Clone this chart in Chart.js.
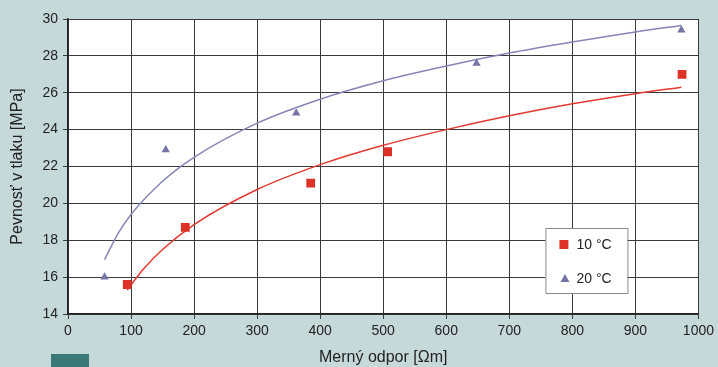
<!DOCTYPE html>
<html>
<head>
<meta charset="utf-8">
<script src="https://cdn.jsdelivr.net/npm/chart.js@4.4.1/dist/chart.umd.min.js"></script>
<style>
  html, body { margin: 0; padding: 0; background: #c6d9d9; }
  #wrap { position: relative; width: 718px; height: 367px; }
  #mark { position: absolute; left: 51px; top: 354px; width: 38px; height: 13px; background: #3a7978; }
</style>
</head>
<body>
<div id="wrap">
  <canvas id="chart" width="718" height="367"></canvas>
  <div id="mark"></div>
</div>
<script>
// measured points
var resist10 = [94, 186, 385, 507, 974];
var strength10 = [15.6, 18.7, 21.1, 22.8, 27.0];
var resist20 = [58, 155, 362, 648, 973];
var strength20 = [16.0, 22.9, 24.9, 27.6, 29.4];

// trend curves
var trendX10 = [94, 120, 150, 200, 300, 400, 500, 600, 700, 800, 900, 973];
var trendY10 = [15.3, 16.45, 17.5, 18.85, 20.75, 22.1, 23.15, 24.0, 24.75, 25.4, 25.95, 26.3];
var trendX20 = [58, 80, 100, 150, 200, 300, 400, 500, 600, 700, 800, 900, 973];
var trendY20 = [16.95, 18.4, 19.4, 21.2, 22.5, 24.35, 25.65, 26.65, 27.45, 28.15, 28.75, 29.3, 29.65];

var xTicks = [0, 100, 200, 300, 400, 500, 600, 700, 800, 900, 1000];
var yTicks = [14, 16, 18, 20, 22, 24, 26, 28, 30];

var red = "#dd3128";
var blue = "#7474a8";
var fontFamily = "'Liberation Sans', Arial, sans-serif";

function toPoints(xs, ys) {
  var pts = [];
  for (let i = 0; i < xs.length; i++) {
    pts.push({ x: xs[i], y: ys[i] });
  }
  return pts;
}

var plotBackground = {
  id: "plotBackground",
  beforeDraw: function(chart) {
    var a = chart.chartArea;
    var ctx = chart.ctx;
    ctx.save();
    ctx.fillStyle = "#ffffff";
    ctx.fillRect(a.left, a.top, a.right - a.left, a.bottom - a.top);
    ctx.restore();
  }
};

// legend box inside the plot, lower right
var boxLegend = {
  id: "boxLegend",
  afterDraw: function(chart) {
    var a = chart.chartArea;
    var ctx = chart.ctx;
    var w = 82, h = 65;
    var bx = a.right - 71 - w;
    var by = a.bottom - 21 - h;
    ctx.save();
    ctx.fillStyle = "#ffffff";
    ctx.fillRect(bx, by, w, h);
    ctx.strokeStyle = "#8a8a8a";
    ctx.lineWidth = 1;
    ctx.strokeRect(bx + 0.5, by + 0.5, w, h);

    ctx.font = "14px " + fontFamily;
    ctx.textBaseline = "middle";

    var d0 = chart.data.datasets[0];
    var d1 = chart.data.datasets[1];
    // square
    ctx.fillStyle = d0.backgroundColor;
    ctx.fillRect(bx + 14, by + 12, 9, 9);
    ctx.fillStyle = "#222";
    ctx.fillText(d0.label, bx + 31, by + 17);
    // triangle
    ctx.fillStyle = d1.backgroundColor;
    ctx.beginPath();
    ctx.moveTo(bx + 19.5, by + 46);
    ctx.lineTo(bx + 24, by + 54);
    ctx.lineTo(bx + 15, by + 54);
    ctx.closePath();
    ctx.fill();
    ctx.fillStyle = "#222";
    ctx.fillText(d1.label, bx + 31, by + 51);
    ctx.restore();
  }
};

var config = {
  type: "scatter",
  data: {
    datasets: [
      {
        label: "10 °C",
        data: toPoints(resist10, strength10),
        backgroundColor: red,
        borderColor: red,
        pointStyle: "rect",
        pointRadius: 6.2,
        pointBorderWidth: 0,
        order: 1
      },
      {
        label: "20 °C",
        data: toPoints(resist20, strength20),
        backgroundColor: blue,
        borderColor: blue,
        pointStyle: "triangle",
        pointRadius: 4.8,
        pointBorderWidth: 0,
        order: 1
      },
      {
        label: "trend 10",
        data: toPoints(trendX10, trendY10),
        showLine: true,
        borderColor: "#e23a30",
        borderWidth: 1.5,
        pointRadius: 0,
        cubicInterpolationMode: "monotone",
        order: 2
      },
      {
        label: "trend 20",
        data: toPoints(trendX20, trendY20),
        showLine: true,
        borderColor: "#8585b8",
        borderWidth: 1.5,
        pointRadius: 0,
        cubicInterpolationMode: "monotone",
        order: 2
      }
    ]
  },
  options: {
    responsive: false,
    animation: false,
    layout: { padding: { left: 0, right: 18, top: 19, bottom: 0 } },
    plugins: {
      legend: { display: false },
      tooltip: { enabled: false }
    },
    scales: {
      x: {
        type: "linear",
        min: 0,
        max: 1000,
        afterBuildTicks: function(scale) {
          scale.ticks = xTicks.map(function(v) { return { value: v }; });
        },
        afterFit: function(scale) { scale.height = 53; },
        grid: { color: "#3a3a3a", lineWidth: 1, tickLength: 5, tickColor: "#3a3a3a" },
        border: { color: "#222", width: 1.5 },
        ticks: {
          color: "#222",
          font: { size: 14, family: fontFamily },
          padding: 4,
          maxRotation: 0,
          callback: function(v) { return String(v); }
        },
        title: {
          display: true,
          text: "Merný odpor [Ωm]",
          color: "#222",
          font: { size: 16, family: fontFamily },
          padding: { top: 0, bottom: 0 }
        }
      },
      y: {
        type: "linear",
        min: 14,
        max: 30,
        afterBuildTicks: function(scale) {
          scale.ticks = yTicks.map(function(v) { return { value: v }; });
        },
        afterFit: function(scale) { scale.width = 68; },
        grid: { color: "#3a3a3a", lineWidth: 1, tickLength: 5, tickColor: "#3a3a3a" },
        border: { color: "#222", width: 1.5 },
        ticks: { color: "#222", font: { size: 14, family: fontFamily }, padding: 5 },
        title: {
          display: true,
          text: "Pevnosť v tlaku [MPa]",
          color: "#222",
          font: { size: 16, family: fontFamily },
          padding: { top: 8, bottom: 0 }
        }
      }
    }
  },
  plugins: [plotBackground, boxLegend]
};

var strengthChart = new Chart(document.getElementById("chart"), config);
</script>
</body>
</html>
